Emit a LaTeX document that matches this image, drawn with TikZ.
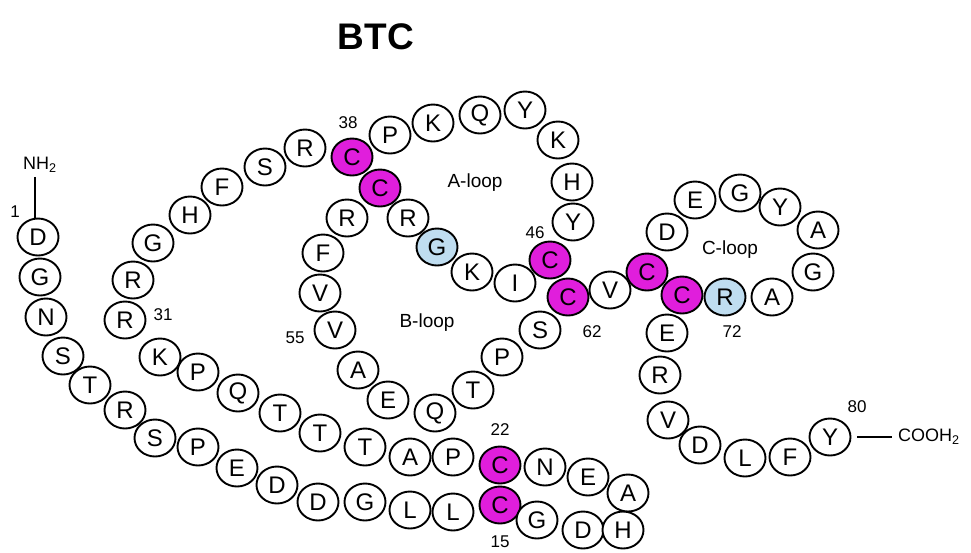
\documentclass[tikz,border=0pt]{standalone}
\usepackage{fontspec}
\setmainfont{Liberation Sans}
\usetikzlibrary{shapes.geometric}
\definecolor{cysmag}{HTML}{E01EDC}
\definecolor{glyblue}{HTML}{BFDDF0}
\tikzset{
  aa/.style={ellipse, draw=black, line width=1.9pt, fill=white, minimum width=41pt, minimum height=37pt, inner sep=0pt, font=\fontsize{24}{24}\selectfont},
  cys/.style={aa, fill=cysmag},
  gly/.style={aa, fill=glyblue},
  num/.style={font=\fontsize{17}{17}\selectfont, inner sep=0pt},
  looplbl/.style={font=\fontsize{19}{19}\selectfont, inner sep=0pt},
  term/.style={font=\fontsize{18}{18}\selectfont, inner sep=0pt},
  bond/.style={line width=1.5pt}
}
\newcommand{\res}[5][aa]{\node[#1] (#2) at (#3,#4) {#5};}
\begin{document}
\begin{tikzpicture}[x=1pt,y=-1pt]
\useasboundingbox (0,0) rectangle (971,552);
\fill[white] (0,0) rectangle (971,552);
\node[font=\fontsize{37}{37}\selectfont\bfseries, inner sep=0pt] (title) at (376,37) {BTC};
% chain
\res{r1}{38}{237}{D}
\res{r2}{40}{277}{G}
\res{r3}{46}{317}{N}
\res{r4}{63}{356}{S}
\res{r5}{90}{385}{T}
\res{r6}{125}{410}{R}
\res{r7}{155}{438}{S}
\res{r8}{198}{447}{P}
\res{r9}{237}{468}{E}
\res{r10}{277}{485}{D}
\res{r11}{318}{502}{D}
\res{r12}{365}{502}{G}
\res{r13}{410}{510}{L}
\res{r14}{453}{512}{L}
\res[cys]{r15}{500}{505}{C}
\res{r16}{537}{520}{G}
\res{r17}{583}{530}{D}
\res{r18}{623}{530}{H}
\res{r19}{628}{493}{A}
\res{r20}{588}{477}{E}
\res{r21}{545}{467}{N}
\res[cys]{r22}{500}{465}{C}
\res{r23}{453}{457}{P}
\res{r24}{410}{457}{A}
\res{r25}{365}{447}{T}
\res{r26}{320}{433}{T}
\res{r27}{280}{413}{T}
\res{r28}{238}{393}{Q}
\res{r29}{198}{372}{P}
\res{r30}{160}{357}{K}
\res{r31}{125}{320}{R}
\res{r32}{133}{280}{R}
\res{r33}{153}{243}{G}
\res{r34}{190}{215}{H}
\res{r35}{222}{187}{F}
\res{r36}{265}{167}{S}
\res{r37}{305}{148}{R}
\res{r39}{390}{135}{P}
\res{r40}{433}{123}{K}
\res{r41}{480}{115}{Q}
\res{r42}{525}{110}{Y}
\res{r43}{558}{140}{K}
\res{r44}{572}{182}{H}
\res{r45}{573}{222}{Y}
\res{r47}{515}{283}{I}
\res{r48}{472}{272}{K}
\res[gly]{r49}{437}{247}{G}
\res{r50}{408}{218}{R}
\res[cys]{r38}{352}{157}{C}
\res[cys]{r51}{380}{188}{C}
\res{r52}{347}{218}{R}
\res{r53}{323}{253}{F}
\res{r54}{320}{293}{V}
\res{r55}{335}{330}{V}
\res{r56}{358}{370}{A}
\res{r57}{388}{400}{E}
\res{r58}{435}{413}{Q}
\res{r59}{473}{390}{T}
\res{r60}{502}{357}{P}
\res{r61}{540}{330}{S}
\res[cys]{r46}{550}{260}{C}
\res[cys]{r62}{568}{297}{C}
\res{r63}{610}{290}{V}
\res{r65}{667}{232}{D}
\res{r66}{695}{200}{E}
\res{r67}{740}{193}{G}
\res{r68}{780}{207}{Y}
\res{r69}{818}{230}{A}
\res{r70}{813}{272}{G}
\res{r71}{772}{297}{A}
\res[gly]{r72}{725}{297}{R}
\res{r74}{667}{333}{E}
\res{r75}{660}{375}{R}
\res{r76}{668}{420}{V}
\res{r77}{700}{445}{D}
\res{r78}{745}{458}{L}
\res{r79}{790}{457}{F}
\res{r80}{830}{437}{Y}
\res[cys]{r64}{647}{272}{C}
\res[cys]{r73}{682}{295}{C}
% termini
\node[term] (nh2) at (40,165) {NH\textsubscript{2}};
\draw[bond] (nh2.south -| r1.north) ++(-3,4) coordinate (nhtop) -- (nhtop |- r1.north);
\node[term, anchor=west] (cooh) at (898,437) {COOH\textsubscript{2}};
\draw[bond] ([xshift=6pt]r80.east) -- ([xshift=-6pt]cooh.west);
% numbers
\node[num] (n1) at (15,212) {1};
\node[num] (n15) at (500,542) {15};
\node[num] (n22) at (500,430) {22};
\node[num] (n31) at (163,315) {31};
\node[num] (n38) at (348,123) {38};
\node[num] (n46) at (535,233) {46};
\node[num] (n55) at (295,338) {55};
\node[num] (n62) at (592,332) {62};
\node[num] (n72) at (732,332) {72};
\node[num] (n80) at (857,407) {80};
% loop labels
\node[looplbl] (aloop) at (475,183) {A-loop};
\node[looplbl] (bloop) at (427,323) {B-loop};
\node[looplbl] (cloop) at (730,250) {C-loop};
\end{tikzpicture}
\end{document}
